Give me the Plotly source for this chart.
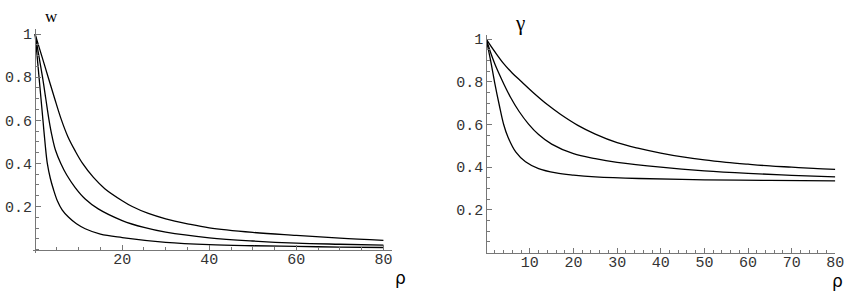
import plotly.graph_objects as go

# ---------------- data ----------------
# left panel: w(rho)
w_top_rho = [0, 1.5, 3, 4.5, 5.9, 7.5, 9.2, 10.9, 13.4, 16, 20, 22.3, 26, 30, 35, 40, 50, 60, 70, 80]
w_top_val = [1, 0.9, 0.8, 0.7, 0.61, 0.525, 0.458, 0.4, 0.335, 0.283, 0.227, 0.2, 0.168, 0.143, 0.12, 0.101, 0.08, 0.066, 0.053, 0.043]

w_mid_rho = [0, 0.85, 1.7, 2.45, 3.2, 3.9, 4.7, 5.9, 7.3, 9.2, 11.5, 14.5, 20, 25, 30, 40, 50, 60, 70, 80]
w_mid_val = [1, 0.9, 0.8, 0.7, 0.6, 0.525, 0.46, 0.4, 0.345, 0.288, 0.235, 0.189, 0.135, 0.103, 0.081, 0.055, 0.04, 0.030, 0.025, 0.021]

w_low_rho = [0, 0.45, 0.9, 1.35, 1.8, 2.3, 2.8, 3.5, 4.2, 5.1, 6.2, 7.7, 9.5, 11.5, 15, 20, 30, 40, 50, 60, 70, 80]
w_low_val = [1, 0.9, 0.8, 0.7, 0.6, 0.49, 0.4, 0.33, 0.28, 0.227, 0.185, 0.15, 0.12, 0.097, 0.072, 0.056, 0.034, 0.023, 0.018, 0.015, 0.012, 0.010]

# right panel: gamma(rho)
g_top_rho = [0, 2, 4, 6, 8.1, 11, 14, 17, 21, 25, 30, 35, 40, 45, 50, 55, 60, 65, 70, 75, 80]
g_top_val = [1, 0.94, 0.885, 0.84, 0.8, 0.745, 0.693, 0.648, 0.596, 0.555, 0.515, 0.488, 0.466, 0.448, 0.434, 0.423, 0.414, 0.406, 0.40, 0.394, 0.39]

g_mid_rho = [0, 1, 2, 3, 3.9, 5.5, 7.5, 9.7, 12, 15, 20, 25, 30, 40, 50, 60, 70, 80]
g_mid_val = [1, 0.937, 0.882, 0.835, 0.795, 0.73, 0.662, 0.602, 0.553, 0.508, 0.463, 0.44, 0.423, 0.4, 0.383, 0.371, 0.362, 0.355]

g_low_rho = [0, 0.5, 1, 1.9, 3, 4, 5, 6.8, 9, 12, 16, 20, 25, 35, 50, 65, 80]
g_low_val = [1, 0.95, 0.9, 0.8, 0.69, 0.6, 0.54, 0.47, 0.425, 0.393, 0.373, 0.363, 0.355, 0.347, 0.341, 0.338, 0.336]

left_xticks = [20, 40, 60, 80]
right_xticks = [10, 20, 30, 40, 50, 60, 70, 80]
yticks = [0.2, 0.4, 0.6, 0.8, 1.0]
ytick_text = ["0.2", "0.4", "0.6", "0.8", "1"]

# ---------------- figure ----------------
W, H = 854, 299
fig = go.Figure()

line = dict(color="black", width=1.3, shape="spline", smoothing=1.0)
for xs, ys in [(w_top_rho, w_top_val), (w_mid_rho, w_mid_val), (w_low_rho, w_low_val)]:
    fig.add_trace(go.Scatter(x=xs, y=ys, mode="lines", line=line, xaxis="x", yaxis="y",
                             showlegend=False, hoverinfo="skip"))
for xs, ys in [(g_top_rho, g_top_val), (g_mid_rho, g_mid_val), (g_low_rho, g_low_val)]:
    fig.add_trace(go.Scatter(x=xs, y=ys, mode="lines", line=line, xaxis="x2", yaxis="y2",
                             showlegend=False, hoverinfo="skip"))

axcol = "#777777"
tickfont = dict(family="Liberation Mono, Courier New, monospace", size=15, color="#333333")

def px2x(p):
    return p / W

def px2y(p):
    return (H - p) / H

common = dict(showgrid=False, zeroline=False, showline=True, linecolor=axcol, linewidth=1,
              ticks="inside", tickcolor=axcol, ticklen=5, tickwidth=1, tickfont=tickfont,
              anchor="free", fixedrange=True)

# left panel geometry
L_x0, L_x1 = 33, 396          # x-axis line extent (px)
L_org_x = 35.5                # rho = 0
L_ppu_x = 4.4
L_y0, L_y1 = 253, 27          # y-axis line extent (px, bottom / top)
L_org_y = 249.3               # w = 0
L_ppu_y = 217.0

fig.update_layout(
    xaxis=dict(common, domain=[px2x(L_x0), px2x(L_x1)],
               range=[(L_x0 - L_org_x) / L_ppu_x, (L_x1 - L_org_x) / L_ppu_x],
               position=px2y(L_org_y), tickmode="array", tickvals=left_xticks,
               ticktext=[str(v) for v in left_xticks], ticklabelstandoff=-5,
               minor=dict(dtick=5, tick0=0, ticks="inside", ticklen=3, tickcolor=axcol)),
    yaxis=dict(common, domain=[px2y(L_y0), px2y(L_y1)],
               range=[(L_org_y - L_y0) / L_ppu_y, (L_org_y - L_y1) / L_ppu_y],
               position=px2x(L_org_x), tickmode="array", tickvals=yticks, ticktext=ytick_text,
               minor=dict(dtick=0.05, tick0=0, ticks="inside", ticklen=3, tickcolor=axcol)),
)

# right panel geometry
R_x0, R_x1 = 491.4, 844.2
R_y0, R_y1 = 252.3, 33
R_ppu_y = 215.0

fig.update_layout(
    xaxis2=dict(common, domain=[px2x(R_x0), px2x(R_x1)], range=[0, 80],
                position=px2y(R_y0), tickmode="array", tickvals=right_xticks,
                ticktext=[str(v) for v in right_xticks], ticklabelstandoff=-5,
                minor=dict(dtick=2, tick0=0, ticks="inside", ticklen=3, tickcolor=axcol)),
    yaxis2=dict(common, domain=[px2y(R_y0), px2y(R_y1)],
                range=[0, (R_y0 - R_y1) / R_ppu_y],
                position=px2x(R_x0), tickmode="array", tickvals=yticks, ticktext=ytick_text,
                minor=dict(dtick=0.05, tick0=0, ticks="inside", ticklen=3, tickcolor=axcol)),
)

labfont = dict(family="Liberation Serif, Times New Roman, serif", size=17, color="black")
rhofont = dict(family="DejaVu Sans, sans-serif", size=17, color="black")
annots = [
    dict(text="w", x=px2x(52), y=px2y(15), font=labfont),
    dict(text="ρ", x=px2x(405), y=px2y(278), font=rhofont),
    dict(text="γ", x=px2x(526), y=px2y(21), font=dict(labfont, size=21)),
    dict(text="ρ", x=px2x(846), y=px2y(281), font=rhofont),
]
for a in annots:
    fig.add_annotation(xref="paper", yref="paper", showarrow=False,
                       xanchor="center", yanchor="middle", **a)

fig.update_layout(width=W, height=H, margin=dict(l=0, r=0, t=0, b=0),
                  paper_bgcolor="white", plot_bgcolor="white", autosize=False)

fig.write_html("out.html", config={"displayModeBar": False},
               post_script="document.body.style.margin='0';document.body.style.overflow='hidden';")
